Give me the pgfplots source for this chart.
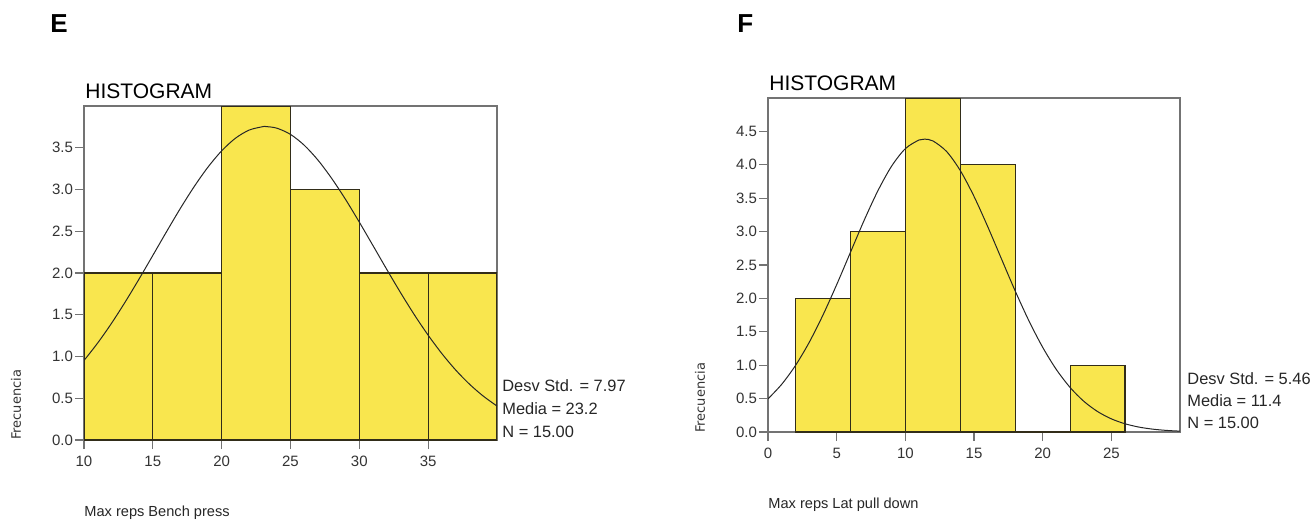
\documentclass[border=0pt]{standalone}
\usepackage{pgfplots}
\pgfplotsset{compat=1.18}
\usepackage{fontspec}
\setmainfont{Liberation Sans}
\newfontfamily\dejavu{DejaVu Sans}
\definecolor{baryellow}{RGB}{249,230,78}
\definecolor{axgray}{RGB}{115,115,115}
\definecolor{edgedark}{RGB}{50,45,25}
\begin{document}
\begin{tikzpicture}
\useasboundingbox (0,0) rectangle (658pt,260.5pt);
\pgfplotsset{histax/.style={scale only axis, width=206.5pt, height=167pt,
  axis line style={axgray, line width=0.6pt}, tick align=outside, tick pos=left,
  major tick length=4.5pt, tick style={axgray, line width=0.6pt},
  ticklabel style={font=\fontsize{7.5}{8}\selectfont, text=black!80},
  /pgf/number format/assume math mode=true,
  y tick label style={xshift=2.5pt, /pgf/number format/fixed, /pgf/number format/fixed zerofill, /pgf/number format/precision=1},
  x tick label style={/pgf/number format/fixed, /pgf/number format/precision=0},
  anchor=south west}}
% Left panel E
\begin{axis}[histax, at={(42pt,40.5pt)}, xmin=10, xmax=40, ymin=0, ymax=4,
  xtick={10,15,20,25,30,35}, ytick={0,0.5,1,1.5,2,2.5,3,3.5}]
\addplot[ybar interval, fill=baryellow, draw=edgedark, line width=0.6pt]
  coordinates {(10,2)(15,2)(20,4)(25,3)(30,2)(35,2)(40,2)};
\addplot[smooth, black!85, line width=0.5pt, mark=none] coordinates {
(10,0.952)(11,1.163)(12,1.398)(13,1.655)(14,1.928)(15,2.211)(16,2.496)(17,2.774)
(18,3.034)(19,3.267)(20,3.463)(21,3.614)(22,3.712)(23,3.753)(23.2,3.754)(24,3.735)
(25,3.660)(26,3.530)(27,3.351)(28,3.131)(29,2.881)(30,2.609)(31,2.326)(32,2.041)
(33,1.763)(34,1.499)(35,1.255)(36,1.034)(37,0.838)(38,0.669)(39,0.526)(40,0.407)};
\end{axis}
% Right panel F
\begin{axis}[histax, at={(384pt,44.5pt)}, width=206pt, xmin=0, xmax=30, ymin=0, ymax=5,
  xtick={0,5,10,15,20,25}, ytick={0,0.5,1,1.5,2,2.5,3,3.5,4,4.5}]
\addplot[ybar interval, fill=baryellow, draw=edgedark, line width=0.6pt]
  coordinates {(2,2)(6,3)(10,5)(14,4)(18,0)(22,1)(26,1)};
\addplot[smooth, black!85, line width=0.5pt, mark=none] coordinates {
(0,0.496)(1,0.715)(2,0.996)(3,1.342)(4,1.750)(5,2.206)(6,2.688)(7,3.169)(8,3.611)
(9,3.980)(10,4.242)(11,4.372)(11.4,4.384)(12,4.358)(13,4.200)(14,3.914)(15,3.527)
(16,3.074)(17,2.591)(18,2.111)(19,1.664)(20,1.268)(21,0.934)(22,0.666)(23,0.459)
(24,0.306)(25,0.197)(26,0.123)(27,0.074)(28,0.043)(29,0.024)(30,0.013)};
\end{axis}
% Panel letters
\node[anchor=base west, inner sep=0pt, font=\bfseries\fontsize{13}{15}\selectfont] at (25pt,244pt) {E};
\node[anchor=base west, inner sep=0pt, font=\bfseries\fontsize{13}{15}\selectfont] at (368.5pt,244pt) {F};
% Titles
\node[anchor=base west, inner sep=0pt, font=\fontsize{10.5}{12}\selectfont] at (42.5pt,211.5pt) {HISTOGRAM};
\node[anchor=base west, inner sep=0pt, font=\fontsize{10.5}{12}\selectfont] at (384.5pt,215.5pt) {HISTOGRAM};
% Stats left
\node[anchor=west, inner sep=0pt, font=\fontsize{8.2}{9}\selectfont, text=black!85] at (251pt,67.5pt) {Desv Std. = 7.97};
\node[anchor=west, inner sep=0pt, font=\fontsize{8.2}{9}\selectfont, text=black!85] at (251pt,56pt) {Media = 23.2};
\node[anchor=west, inner sep=0pt, font=\fontsize{8.2}{9}\selectfont, text=black!85] at (251pt,44.5pt) {N = 15.00};
% Stats right
\node[anchor=west, inner sep=0pt, font=\fontsize{8.2}{9}\selectfont, text=black!85] at (593.5pt,71pt) {Desv Std. = 5.46};
\node[anchor=west, inner sep=0pt, font=\fontsize{8.2}{9}\selectfont, text=black!85] at (593.5pt,60pt) {Media = 11.4};
\node[anchor=west, inner sep=0pt, font=\fontsize{8.2}{9}\selectfont, text=black!85] at (593.5pt,49pt) {N = 15.00};
% Axis labels
\node[rotate=90, inner sep=0pt, font=\dejavu\fontsize{6.5}{8}\selectfont, text=black!80] at (8pt,58pt) {Frecuencia};
\node[rotate=90, inner sep=0pt, font=\dejavu\fontsize{6.5}{8}\selectfont, text=black!80] at (350pt,61.5pt) {Frecuencia};
\node[anchor=west, inner sep=0pt, font=\fontsize{7.3}{8}\selectfont, text=black!85] at (42pt,4pt) {Max reps Bench press};
\node[anchor=west, inner sep=0pt, font=\fontsize{7.3}{8}\selectfont, text=black!85] at (384pt,8pt) {Max reps Lat pull down};
\end{tikzpicture}
\end{document}
